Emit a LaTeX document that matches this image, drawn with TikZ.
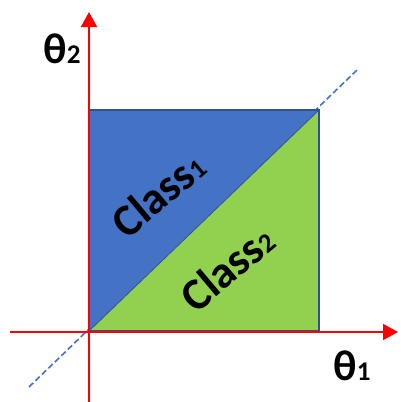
\documentclass[tikz,border=0pt]{standalone}
\usepackage{fontspec}
\setmainfont{Carlito}
\usetikzlibrary{arrows.meta}
\definecolor{clsblue}{HTML}{4472C4}
\definecolor{clsgreen}{HTML}{92D050}
\definecolor{edgeblue}{HTML}{2F528F}
\definecolor{axisred}{HTML}{FF0000}
\tikzset{
  axis/.style={draw=axisred, line width=2pt, -{Triangle[length=15pt,width=16pt]}},
  bigtext/.style={font=\bfseries\fontsize{45}{50}\selectfont, inner sep=0pt},
  axlabel/.style={font=\bfseries\fontsize{43}{48}\selectfont, inner sep=0pt},
  dashline/.style={draw=clsblue, line width=1.6pt, dash pattern=on 6pt off 3pt},
}
\newcommand{\smallsub}[1]{{\fontsize{27}{27}\selectfont #1}}
\begin{document}
\begin{tikzpicture}[x=1pt,y=-1pt]
\useasboundingbox (0,0) rectangle (400,402);
\coordinate (O) at (89,331);
\coordinate (TL) at (89,110);
\coordinate (TR) at (319,110);
\coordinate (BR) at (319,331);
\coordinate (dA) at (29,387);
\coordinate (dB) at (357,70);
\coordinate (xS) at (10,332);
\coordinate (xE) at (398,332);
\coordinate (yS) at (89,402);
\coordinate (yE) at (89,12);
% dashed separator
\draw[dashline] (dA) -- (dB);
% regions
\fill[clsblue] (O) -- (TL) -- (TR) -- cycle;
\fill[clsgreen] (O) -- (TR) -- (BR) -- cycle;
\draw[edgeblue, line width=0.8pt] (O) -- (TR);
\draw[edgeblue, line width=1.5pt] (O) rectangle (TR);
% axes
\draw[axis] (xS) -- (xE);
\draw[axis] (yS) -- (yE);
% labels
\node[bigtext, rotate=40] (c1) at (158,194) {Class\smallsub{1}};
\node[bigtext, rotate=40] (c2) at (227,268) {Class\smallsub{2}};
\node[axlabel] (t2) at (62,49) {θ\smallsub{2}};
\node[axlabel] (t1) at (352,366) {θ\smallsub{1}};
\end{tikzpicture}
\end{document}
